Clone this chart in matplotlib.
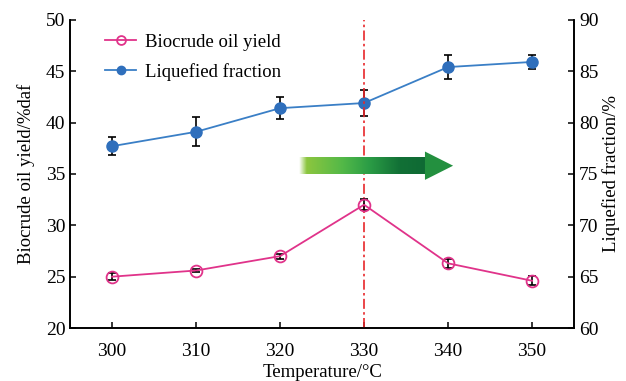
import numpy as np
import matplotlib.pyplot as plt
from matplotlib.colors import LinearSegmentedColormap
from matplotlib.patches import Polygon

plt.rcParams['font.family'] = ['Liberation Serif', 'DejaVu Serif']

# data
temperature = [300, 310, 320, 330, 340, 350]
biocrude_yield = [25.0, 25.6, 27.0, 32.0, 26.3, 24.6]
biocrude_err = [0.35, 0.15, 0.25, 0.55, 0.45, 0.45]
liquefied = [77.7, 79.1, 81.4, 81.9, 85.4, 85.9]
liquefied_err = [0.9, 1.4, 1.1, 1.3, 1.2, 0.7]

pink = '#e0338a'
blue = '#2f6fbc'

fig, ax = plt.subplots(figsize=(6.26, 3.81), dpi=100)
fig.subplots_adjust(left=0.112, right=0.917, top=0.948, bottom=0.139)
ax2 = ax.twinx()

# biocrude on left axis
ax.errorbar(temperature, biocrude_yield, yerr=biocrude_err, fmt='none',
            ecolor='black', elinewidth=1.2, capsize=3, capthick=1.2, zorder=3)
l1, = ax.plot(temperature, biocrude_yield, color=pink, lw=1.3, marker='o',
              ms=8.5, mfc='none', mec=pink, mew=1.3, zorder=4)

# liquefied fraction on right axis
ax2.errorbar(temperature, liquefied, yerr=liquefied_err, fmt='none',
             ecolor='black', elinewidth=1.2, capsize=3, capthick=1.2, zorder=3)
l2, = ax2.plot(temperature, liquefied, color='#3a7fc6', lw=1.3, marker='o',
               ms=8, mfc=blue, mec=blue, zorder=4)

# vertical marker line
ax.axvline(330, color='#e8262a', lw=1.2, ls=(0, (6, 2, 1.5, 2)), zorder=2)

# gradient arrow
x0, xh, x1, yc = 322.3, 337.3, 340.6, 35.8
hs, hh = 0.8, 1.38
cmap = LinearSegmentedColormap.from_list('g', [
    (0.0, '#ffffff'), (0.06, '#8cc63f'), (0.35, '#52b848'),
    (0.55, '#2c9e46'), (0.8, '#127036'), (1.0, '#0f6a34')])
grad = np.linspace(0, 1, 256).reshape(1, -1)
shaft = Polygon([[x0, yc - hs], [xh, yc - hs], [xh, yc + hs], [x0, yc + hs]],
                closed=True, fc='none', ec='none', transform=ax.transData)
ax.add_patch(shaft)
im = ax.imshow(grad, cmap=cmap, aspect='auto', extent=[x0, xh, yc - hs, yc + hs],
               zorder=2.5)
im.set_clip_path(shaft)
ax.add_patch(Polygon([[xh - 0.05, yc - hh], [x1, yc], [xh - 0.05, yc + hh]],
                     closed=True, fc='#23903f', ec='none', zorder=2.5))

ax.set_xlim(295, 355)
ax.set_ylim(20, 50)
ax2.set_ylim(60, 90)
ax.set_xticks(temperature)
ax.set_yticks(np.arange(20, 51, 5))
ax2.set_yticks(np.arange(60, 91, 5))

for a in (ax, ax2):
    a.spines['top'].set_visible(False)
    for s in a.spines.values():
        s.set_linewidth(1.2)
    a.tick_params(direction='in', length=4, width=1.1, labelsize=14)
ax.tick_params(axis='x', pad=11)

ax.set_xlabel('Temperature/°C', fontsize=13.5, labelpad=3)
ax.set_ylabel('Biocrude oil yield/%daf', fontsize=13.5, labelpad=8)
ax2.set_ylabel('Liquefied fraction/%', fontsize=13.5, labelpad=3)

leg = ax.legend([l1, l2], ['Biocrude oil yield', 'Liquefied fraction'],
                loc='upper left', bbox_to_anchor=(0.035, 1.01), frameon=False,
                fontsize=13.5, markerscale=0.75, handlelength=1.7,
                handletextpad=0.45, labelspacing=0.65)

ax.set_zorder(ax2.get_zorder() + 1)
ax.patch.set_visible(False)

fig.savefig('out.png', dpi=100)
